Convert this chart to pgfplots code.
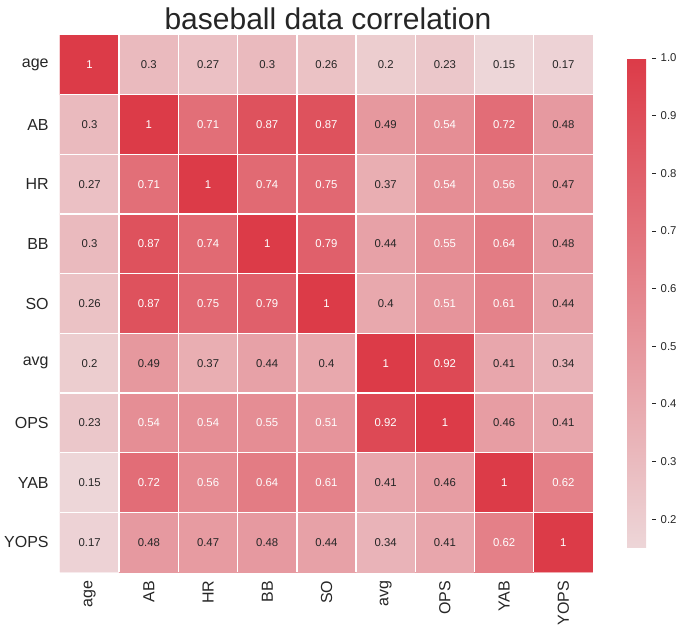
\documentclass[border=0pt]{standalone}
\usepackage{fontspec}
\setmainfont{Liberation Sans}
\usepackage{pgfplots}
\usepackage{pgfplotstable}
\pgfplotsset{compat=1.18}
\pgfplotsset{/pgf/number format/assume math mode=true}
\definecolor{txt}{HTML}{262626}

\pgfplotstableread{
x y v
0 0 1
1 0 0.3
2 0 0.27
3 0 0.3
4 0 0.26
5 0 0.2
6 0 0.23
7 0 0.15
8 0 0.17
0 1 0.3
1 1 1
2 1 0.71
3 1 0.87
4 1 0.87
5 1 0.49
6 1 0.54
7 1 0.72
8 1 0.48
0 2 0.27
1 2 0.71
2 2 1
3 2 0.74
4 2 0.75
5 2 0.37
6 2 0.54
7 2 0.56
8 2 0.47
0 3 0.3
1 3 0.87
2 3 0.74
3 3 1
4 3 0.79
5 3 0.44
6 3 0.55
7 3 0.64
8 3 0.48
0 4 0.26
1 4 0.87
2 4 0.75
3 4 0.79
4 4 1
5 4 0.4
6 4 0.51
7 4 0.61
8 4 0.44
0 5 0.2
1 5 0.49
2 5 0.37
3 5 0.44
4 5 0.4
5 5 1
6 5 0.92
7 5 0.41
8 5 0.34
0 6 0.23
1 6 0.54
2 6 0.54
3 6 0.55
4 6 0.51
5 6 0.92
6 6 1
7 6 0.46
8 6 0.41
0 7 0.15
1 7 0.72
2 7 0.56
3 7 0.64
4 7 0.61
5 7 0.41
6 7 0.46
7 7 1
8 7 0.62
0 8 0.17
1 8 0.48
2 8 0.47
3 8 0.48
4 8 0.44
5 8 0.34
6 8 0.41
7 8 0.62
8 8 1
}\corr

\begin{document}
\begin{tikzpicture}
\useasboundingbox (-45pt,-42.75pt) rectangle (467.25pt,429pt);
\begin{axis}[
  width=399.75pt, height=402.75pt, scale only axis,
  at={(0,0)}, anchor=south west,
  xmin=-0.5, xmax=8.5, ymin=-0.5, ymax=8.5,
  y dir=reverse, enlargelimits=false,
  xtick={0,...,8}, ytick={0,...,8},
  xticklabels={age,AB,HR,BB,SO,avg,OPS,YAB,YOPS},
  yticklabels={age,AB,HR,BB,SO,avg,OPS,YAB,YOPS},
  minor xtick={0.5,1.5,...,7.5}, minor ytick={0.5,1.5,...,7.5},
  xminorgrids, yminorgrids,
  minor grid style={white, line width=1.1pt},
  axis on top,
  major tick length=0pt, minor tick length=0pt,
  axis line style={draw=none},
  ticklabel style={font=\fontsize{12}{14}\selectfont, color=txt},
  xticklabel style={rotate=90, anchor=east, xshift=-3pt},
  yticklabel style={xshift=-5pt},
  colormap={heat}{rgb255(0cm)=(237,214,216); rgb255(1cm)=(220,59,72)},
  point meta min=0.15, point meta max=1,
  colorbar,
  colorbar style={
    at={(parent axis.north east)}, anchor=north west,
    xshift=17pt, yshift=-17.25pt,
    width=18.75pt, height=367.5pt,
    ytick={0.2,0.3,0.4,0.5,0.6,0.7,0.8,0.9,1.0},
    ytick pos=right,
    axis line style={draw=none},
    major tick length=3pt, tick align=outside,
    tick style={txt, line width=0.6pt},
    yticklabel style={font=\fontsize{8.5}{10}\selectfont, color=txt,
      /pgf/number format/.cd, fixed, fixed zerofill, precision=1},
  },
]
\addplot[matrix plot*, mesh/cols=9, point meta=explicit]
  table[x=x, y=y, meta=v] {\corr};
\addplot[only marks, mark=*, mark size=0pt, mark options={draw=none, fill=none},
  visualization depends on={\thisrow{v} \as \val},
  nodes near coords={\ifdim\val pt>0.505pt \color{white}\else\color{txt}\fi\pgfmathprintnumber[fixed,precision=2]{\val}},
  every node near coord/.append style={anchor=center, font=\fontsize{8.5}{10}\selectfont}]
  table[x=x, y=y] {\corr};
\end{axis}
\node[anchor=base, text=txt, font=\fontsize{22.5}{26}\selectfont] at (201pt,407pt) {baseball data correlation};
\end{tikzpicture}
\end{document}
